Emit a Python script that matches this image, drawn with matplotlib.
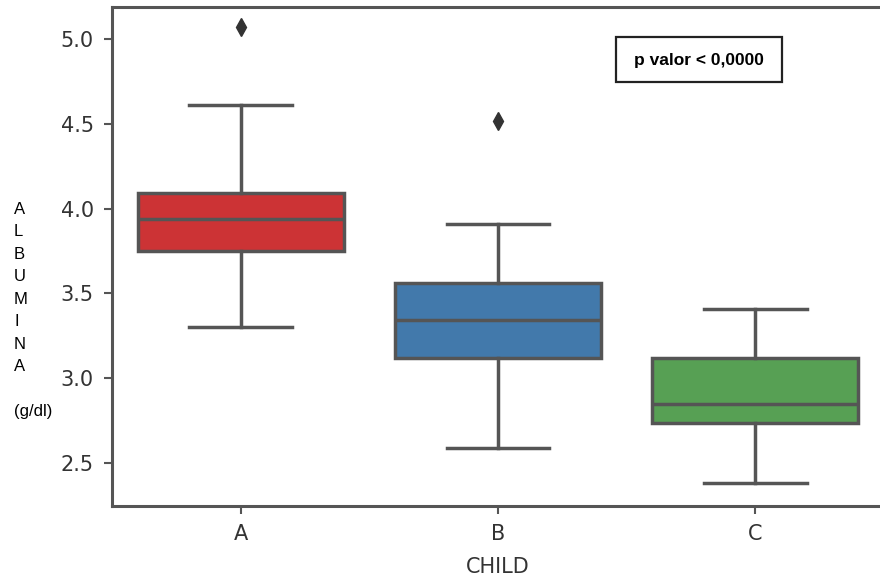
"""Albumina by CHILD class, boxplot"""
import matplotlib
matplotlib.use('Agg')
import matplotlib.pyplot as plt
from matplotlib.patches import Rectangle

# values
groups = ['A', 'B', 'C']
q1 = [3.75, 3.12, 2.735]
med = [3.94, 3.345, 2.85]
q3 = [4.09, 3.56, 3.12]
whislo = [3.30, 2.59, 2.38]
whishi = [4.61, 3.91, 3.41]
outliers = [[5.07], [4.52], []]
colors = ['#cc3335', '#4279ab', '#57a054']

yticks = [2.5, 3.0, 3.5, 4.0, 4.5, 5.0]

GRAY = '#555555'

fig = plt.figure(figsize=(8.8, 5.78), dpi=100, facecolor='white')
ax = fig.add_axes([112 / 880, 72 / 578, 772 / 880, 499 / 578])

stats = []
for i, g in enumerate(groups):
    stats.append({'label': g, 'q1': q1[i], 'med': med[i], 'q3': q3[i],
                  'whislo': whislo[i], 'whishi': whishi[i],
                  'fliers': outliers[i]})

bp = ax.bxp(stats, positions=range(len(groups)), widths=0.8,
            patch_artist=True, showfliers=True,
            boxprops={'edgecolor': GRAY, 'linewidth': 2.5},
            medianprops={'color': GRAY, 'linewidth': 2.5},
            whiskerprops={'color': GRAY, 'linewidth': 2.5},
            capprops={'color': GRAY, 'linewidth': 2.5},
            flierprops={'marker': 'd', 'markerfacecolor': '#333333',
                        'markeredgecolor': '#333333', 'markersize': 9})
for patch, c in zip(bp['boxes'], colors):
    patch.set_facecolor(c)

ax.set_xlim(-0.5, 2.5)
ax.set_ylim(2.246, 5.19)
ax.set_yticks(yticks)
ax.set_yticklabels(['%.1f' % t for t in yticks])
ax.set_xticks(range(len(groups)))
ax.set_xticklabels(groups)

for sp in ax.spines.values():
    sp.set_color(GRAY)
    sp.set_linewidth(2.2)
ax.tick_params(colors=GRAY, width=1.5, length=6, labelsize=15,
               labelcolor='#333333')
ax.tick_params(axis='y', pad=7)
ax.tick_params(axis='x', pad=7)
ax.set_xlabel('CHILD', fontsize=15, color='#333333', labelpad=9)

# vertical y label, letter by letter
fig.text(14 / 880, 1 - 202 / 578, 'A\nL\nB\nU\nM\nI\nN\nA\n\n(g/dl)',
         ha='left', va='top', fontsize=12, family='Liberation Sans',
         linespacing=1.62, color='black')

# p-value box
fig.patches.append(Rectangle((616 / 880, 1 - 82 / 578), 166 / 880, 45 / 578,
                             transform=fig.transFigure, facecolor='white',
                             edgecolor='#222222', linewidth=1.6, zorder=5))
fig.text(699 / 880, 1 - 60 / 578, 'p valor < 0,0000', ha='center',
         va='center', fontsize=12.5, fontweight='bold',
         family='Liberation Sans', zorder=6)

fig.savefig('out.png', dpi=100, facecolor='white')
